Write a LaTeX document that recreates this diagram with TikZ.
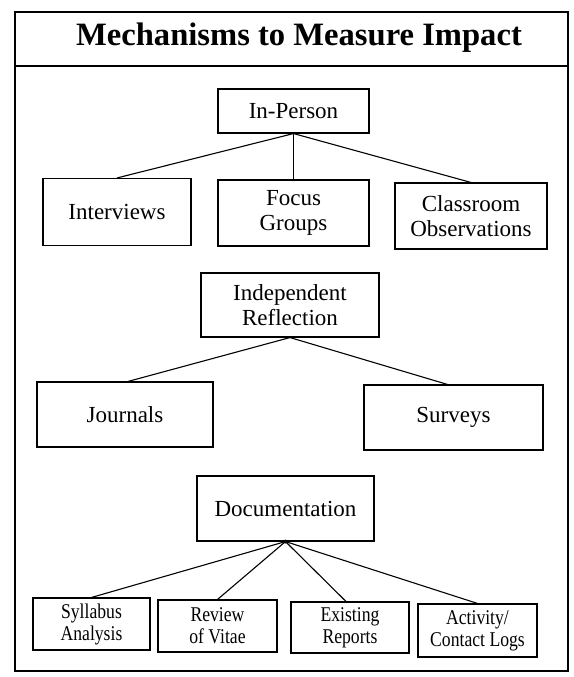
\documentclass[tikz,border=0pt]{standalone}
\usepackage{fontspec}
\setmainfont{Liberation Serif}
\newfontfamily\condfont[FakeStretch=0.84]{Liberation Serif}
\begin{document}
\begin{tikzpicture}[x=1pt,y=-1pt,
  box/.style={draw=black,line width=1.1pt,rectangle,inner sep=0pt,align=center,
    font=\fontsize{23}{25}\selectfont},
  smallbox/.style={box,font=\condfont\fontsize{21}{22}\selectfont},
  link/.style={draw=black,line width=1.1pt},
  frame/.style={draw=black,line width=1.5pt}]
\useasboundingbox (0,0) rectangle (573,677);
\draw[frame] (15,12) rectangle (568,671);
\draw[frame] (15,66) -- (568,66);
\node[font=\bfseries\fontsize{32.6}{34}\selectfont] (title) at (299,38) {Mechanisms to Measure Impact};

\node[box,minimum width=151pt,minimum height=44pt] (inperson) at (293.5,111) {In-Person};
\node[box,minimum width=148pt,minimum height=67pt] (interviews) at (117,212) {Interviews};
\node[box,minimum width=151pt,minimum height=66pt] (focus) at (293.5,213) {Focus\\Groups};
\node[box,minimum width=152pt,minimum height=66pt] (classroom) at (471,216) {Classroom\\Observations};

\node[box,minimum width=178pt,minimum height=64pt] (ir) at (290,305) {Independent\\Reflection};
\node[box,minimum width=176pt,minimum height=65pt] (journals) at (125,414.5) {Journals};
\node[box,minimum width=179pt,minimum height=65pt] (surveys) at (453.5,417.5) {Surveys};

\node[box,minimum width=177pt,minimum height=65pt] (doc) at (285.5,508.5) {Documentation};
\node[smallbox,minimum width=117pt,minimum height=52pt] (syllabus) at (91.5,624) {Syllabus\\Analysis};
\node[smallbox,minimum width=119pt,minimum height=52pt] (review) at (217.5,626) {Review\\of Vitae};
\node[smallbox,minimum width=118pt,minimum height=51pt] (existing) at (350,627.5) {Existing\\Reports};
\node[smallbox,minimum width=119pt,minimum height=53pt] (activity) at (477.5,630.5) {Activity/\\Contact Logs};

\draw[link] (inperson.south) -- (interviews.north);
\draw[link] (inperson.south) -- (focus.north);
\draw[link] (inperson.south) -- (classroom.north);
\draw[link] (ir.south) -- ([xshift=3pt]journals.north);
\draw[link] (ir.south) -- ([xshift=-6pt]surveys.north);
\fill (doc.south) circle (2pt);
\draw[link] (doc.south) -- (syllabus.north);
\draw[link] (doc.south) -- (review.north);
\draw[link] (doc.south) -- ([xshift=-4pt]existing.north);
\draw[link] (doc.south) -- (activity.north);
\end{tikzpicture}
\end{document}
